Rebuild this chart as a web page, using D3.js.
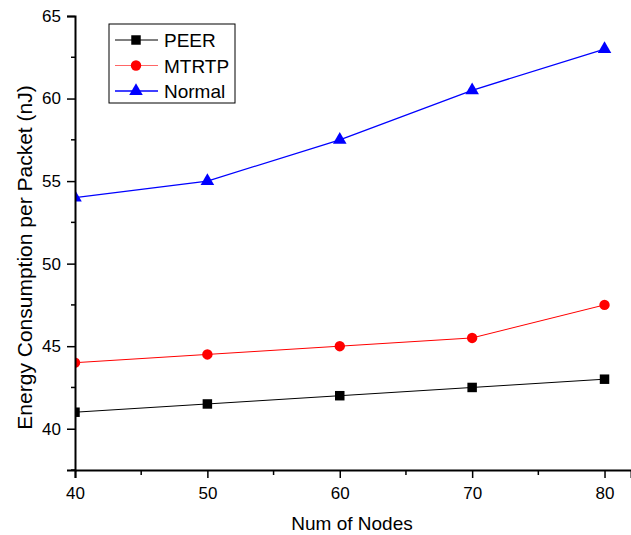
<!DOCTYPE html>
<html>
<head>
<meta charset="utf-8">
<script src="https://d3js.org/d3.v7.min.js"></script>
<style>
  body { margin: 0; background: #fff; }
  text { font-family: "Liberation Sans", Arial, sans-serif; fill: #000; }
</style>
</head>
<body>
<svg id="chart" width="631" height="535"></svg>
<script>
// data
const nodes = [40, 50, 60, 70, 80];
const peer = [41, 41.5, 42, 42.5, 43];
const mtrtp = [44, 44.5, 45, 45.5, 47.5];
const normal = [54, 55, 57.5, 60.5, 63];
const xTicks = [40, 50, 60, 70, 80];
const yTicks = [40, 45, 50, 55, 60, 65];

const svg = d3.select("#chart");

const x = d3.scaleLinear().domain([40, 82]).range([75, 631]);
const y = d3.scaleLinear().domain([37.5, 65]).range([470, 16]);

// clip so markers on the left edge are cut like the original
svg.append("clipPath").attr("id", "plotClip")
  .append("rect").attr("x", 75).attr("y", 0).attr("width", 560).attr("height", 471);

const series = [
  { name: "PEER", values: peer, color: "#000", width: 1, shape: d3.symbolSquare, size: 90 },
  { name: "MTRTP", values: mtrtp, color: "#ff0000", width: 1, shape: d3.symbolCircle, size: 85 },
  { name: "Normal", values: normal, color: "#0000ff", width: 1.3, shape: d3.symbolTriangle, size: 80 }
];

const plot = svg.append("g").attr("clip-path", "url(#plotClip)");
const line = d3.line().x((d, i) => x(nodes[i])).y(d => y(d));

series.forEach(s => {
  plot.append("path")
    .datum(s.values)
    .attr("d", line)
    .attr("fill", "none")
    .attr("stroke", s.color)
    .attr("stroke-width", s.width);
  plot.selectAll(null)
    .data(s.values)
    .join("path")
    .attr("d", d3.symbol().type(s.shape).size(s.size))
    .attr("transform", (d, i) => `translate(${x(nodes[i])},${y(d)})`)
    .attr("fill", s.color);
});

// minor ticks (half steps)
const xMinor = xTicks.slice(0, -1).map(v => v + 5);
const yMinor = yTicks.slice(0, -1).map(v => v + 2.5).concat([37.5]);

svg.append("g")
  .selectAll("line").data(xMinor).join("line")
  .attr("x1", d => x(d)).attr("x2", d => x(d))
  .attr("y1", 470).attr("y2", 475)
  .attr("stroke", "#000").attr("stroke-width", 1.5);
svg.append("g")
  .selectAll("line").data(yMinor).join("line")
  .attr("y1", d => y(d)).attr("y2", d => y(d))
  .attr("x1", 71).attr("x2", 75)
  .attr("stroke", "#000").attr("stroke-width", 1.5);

// axes
const xAxis = svg.append("g")
  .attr("transform", "translate(0,470)")
  .call(d3.axisBottom(x).tickValues(xTicks).tickSize(8).tickPadding(9));
const yAxis = svg.append("g")
  .attr("transform", "translate(75,0)")
  .call(d3.axisLeft(y).tickValues(yTicks).tickSize(8).tickPadding(6));

[xAxis, yAxis].forEach(a => {
  a.select(".domain").attr("stroke-width", 2);
  a.selectAll(".tick line").attr("stroke-width", 1.5);
  a.selectAll("text").style("font-size", "17px").attr("font-family", null);
});

// axis titles
svg.append("text")
  .attr("x", 352).attr("y", 530)
  .attr("text-anchor", "middle")
  .style("font-size", "19px")
  .text("Num of Nodes");
svg.append("text")
  .attr("transform", "translate(32,257.5) rotate(-90)")
  .attr("text-anchor", "middle")
  .style("font-size", "21px")
  .text("Energy Consumption per Packet (nJ)");

// legend
const legend = svg.append("g");
legend.append("rect")
  .attr("x", 109).attr("y", 24).attr("width", 126).attr("height", 79)
  .attr("fill", "#fff").attr("stroke", "#000").attr("stroke-width", 1);

series.forEach((s, i) => {
  const ly = 40 + i * 25.5;
  legend.append("line")
    .attr("x1", 115).attr("x2", 158).attr("y1", ly).attr("y2", ly)
    .attr("stroke", s.color).attr("stroke-width", s.width)
    .attr("stroke-opacity", i === 1 ? 0.6 : 1);
  legend.append("path")
    .attr("d", d3.symbol().type(s.shape).size(s.size))
    .attr("transform", `translate(136,${ly})`)
    .attr("fill", s.color);
  legend.append("text")
    .attr("x", 164).attr("y", ly + 7)
    .style("font-size", "19px")
    .text(s.name);
});
</script>
</body>
</html>
